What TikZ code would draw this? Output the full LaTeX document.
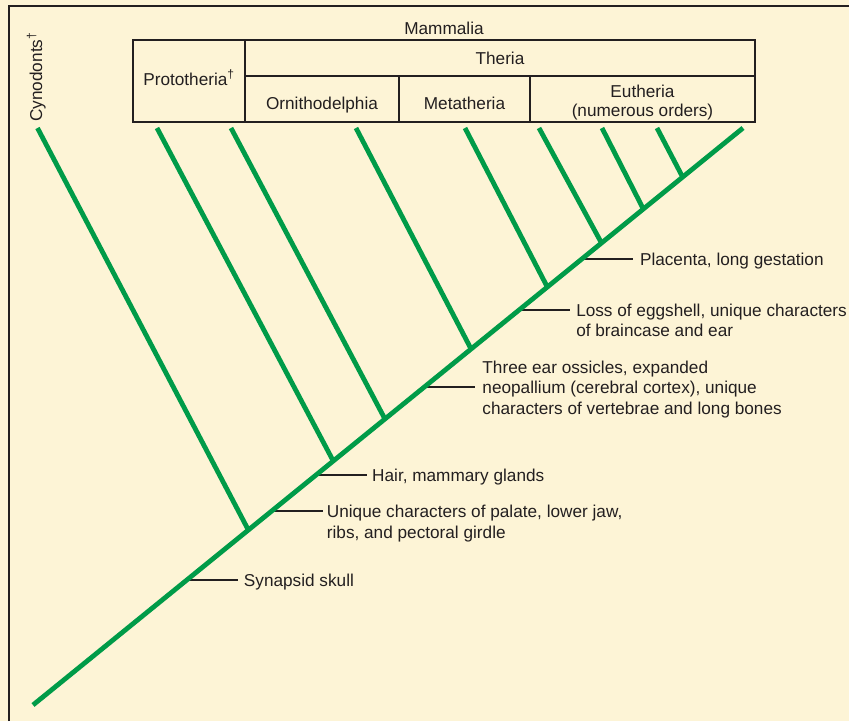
\documentclass[tikz,border=0pt]{standalone}
\usepackage{fontspec}
\setmainfont{Liberation Sans}
\usetikzlibrary{calc}
\definecolor{paper}{RGB}{253,244,214}
\definecolor{ink}{RGB}{35,31,32}
\definecolor{clade}{RGB}{0,155,72}
\begin{document}
\begin{tikzpicture}[x=1pt,y=-1pt,
  branch/.style={draw=clade,line width=4.8pt},
  rule/.style={draw=ink,line width=1.5pt},
  tick/.style={draw=ink,line width=1.2pt},
  lbl/.style={font=\fontsize{17.2}{20.5}\selectfont,text=ink,inner sep=0pt,align=left},
  cell/.style={font=\fontsize{17.2}{19}\selectfont,text=ink,inner sep=0pt,align=center}]
\useasboundingbox (0,0) rectangle (849,721);
\fill[paper] (0,0) rectangle (849,721);
% panel frame
\draw[ink,line width=2pt] (8.5,721) |- (849,5.5);

% classification table
\draw[rule] (133,40) rectangle (755,122);
\draw[rule] (245,40) -- (245,122);
\draw[rule] (245,76) -- (755,76);
\draw[rule] (399,76) -- (399,122);
\draw[rule] (530,76) -- (530,122);
\node[cell,anchor=base] (mammalia) at (444,34) {Mammalia};
\node[cell,anchor=base] (theria) at (500,64) {Theria};
\node[cell,anchor=base] (proto) at (189,85) {Prototheria\textsuperscript{†}};
\node[cell,anchor=base] (ornitho) at (322,109) {Ornithodelphia};
\node[cell,anchor=base] (meta) at (464.5,109) {Metatheria};
% base anchor of a multi-line node sits on its last line
\node[cell,anchor=base] (eu) at (642.5,116) {Eutheria\\(numerous orders)};
\node[lbl,rotate=90,anchor=base west] (cyn) at (42,122) {Cynodonts\textsuperscript{†}};

% main stem
\coordinate (root) at (33,705);
\coordinate (crown) at (743,128);

% character marks along the stem
\coordinate (m1) at ($(root)!0.2166!(crown)$);
\coordinate (m2) at ($(root)!0.3362!(crown)$);
\coordinate (m3) at ($(root)!0.3986!(crown)$);
\coordinate (m4) at ($(root)!0.5511!(crown)$);
\coordinate (m5) at ($(root)!0.6846!(crown)$);
\coordinate (m6) at ($(root)!0.7730!(crown)$);
\foreach \m in {1,...,6} {
  \draw[tick] (m\m) -- ++(51,0) coordinate (m\m e);
}
\node[lbl,anchor=base west] (synapsid) at ($(m1e)+(6,6.5)$) {Synapsid skull};
\node[lbl,anchor=base west] (palate) at ($(m2e)+(4,27)$) {Unique characters of palate, lower jaw,\\ribs, and pectoral girdle};
\node[lbl,anchor=base west] (hair) at ($(m3e)+(5,6.5)$) {Hair, mammary glands};
\node[lbl,anchor=base west] (ossicles) at ($(m4e)+(7,27)$) {Three ear ossicles, expanded\\neopallium (cerebral cortex), unique\\characters of vertebrae and long bones};
\node[lbl,anchor=base west] (eggshell) at ($(m5e)+(6,27)$) {Loss of eggshell, unique characters\\of braincase and ear};
\node[lbl,anchor=base west] (placenta) at ($(m6e)+(7,6.5)$) {Placenta, long gestation};

% branch points
\coordinate (j1) at ($(root)!0.3033!(crown)$);
\coordinate (j2) at ($(root)!0.4229!(crown)$);
\coordinate (j3) at ($(root)!0.4957!(crown)$);
\coordinate (j4) at ($(root)!0.6170!(crown)$);
\coordinate (j5) at ($(root)!0.7244!(crown)$);
\coordinate (j6) at ($(root)!0.8007!(crown)$);
\coordinate (j7) at ($(root)!0.8596!(crown)$);
\coordinate (j8) at ($(root)!0.9150!(crown)$);
% branch tips
\coordinate (t1) at (37.5,128);
\coordinate (t2) at (157,128);
\coordinate (t3) at (231,128);
\coordinate (t4) at (356,128);
\coordinate (t5) at (465,128);
\coordinate (t6) at (539,128);
\coordinate (t7) at (602,128);
\coordinate (t8) at (657,128);
\foreach \b in {1,...,8} {
  \draw[branch] (j\b) -- (t\b);
}
\draw[branch] (root) -- (crown);
\end{tikzpicture}
\end{document}
